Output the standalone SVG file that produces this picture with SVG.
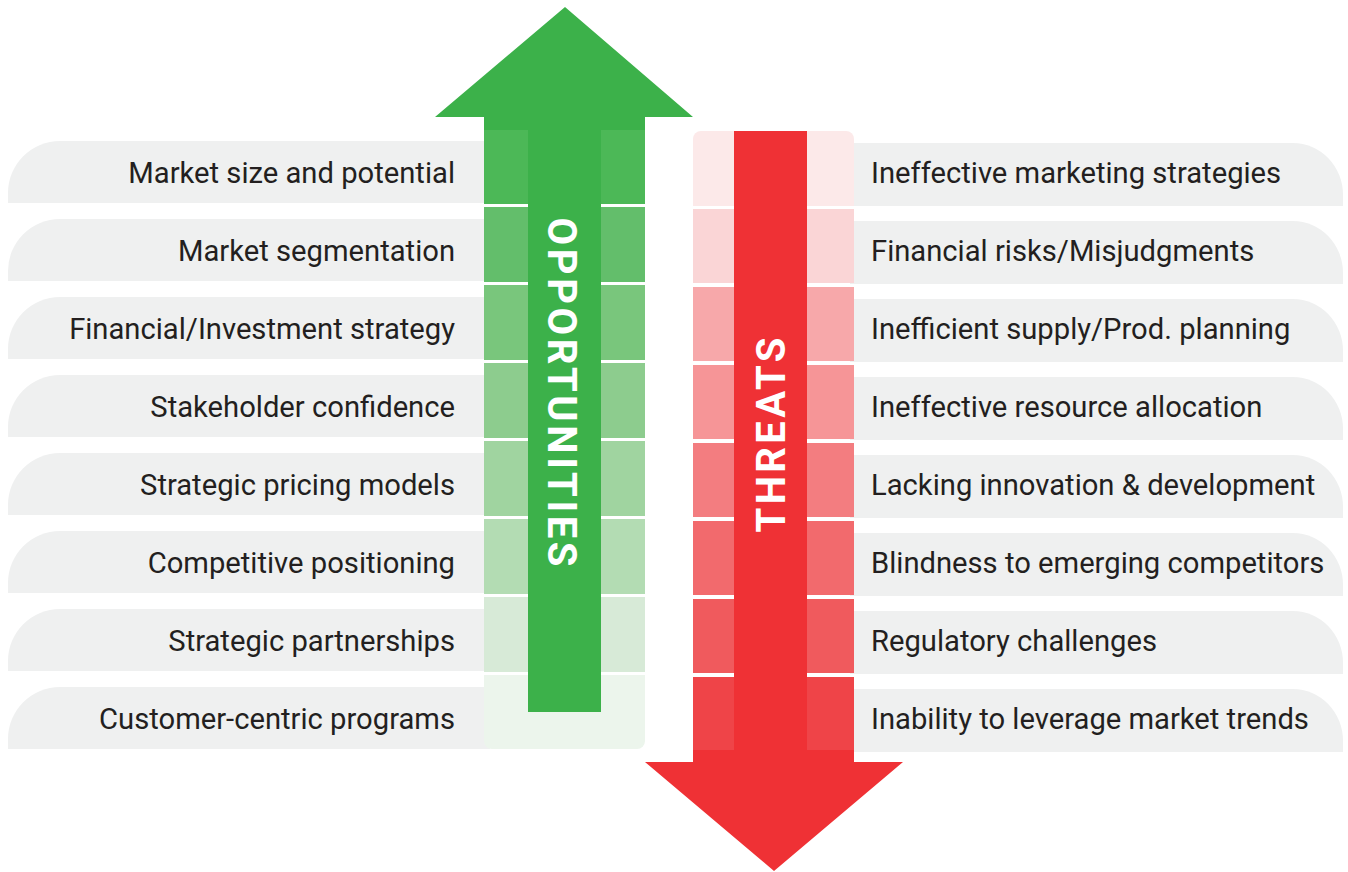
<svg xmlns="http://www.w3.org/2000/svg" width="1348" height="872" viewBox="0 0 1348 872">
<style>
.row{fill:#eff0f0}
.lt{font-family:Roboto,"Liberation Sans",sans-serif;font-size:29.2px;fill:#231f20;text-anchor:end}
.rt{font-family:Roboto,"Liberation Sans",sans-serif;font-size:29.2px;fill:#231f20;text-anchor:start}
.big{font-family:Roboto,"Liberation Sans",sans-serif;font-weight:bold;font-size:40px;fill:#ffffff;text-anchor:middle}
</style>
<rect width="1348" height="872" fill="#ffffff"/>
<defs>
<path id="lrow" d="M8,62 V52 A52,52 0 0 1 60,0 H490 V62 Z"/>
<path id="rrow" d="M850,0 H1293 A50,52 0 0 1 1343,52 V63 H850 Z"/>
</defs>
<g id="left-rows">
<use href="#lrow" class="row" y="141"/>
<use href="#lrow" class="row" y="219"/>
<use href="#lrow" class="row" y="297"/>
<use href="#lrow" class="row" y="375"/>
<use href="#lrow" class="row" y="453"/>
<use href="#lrow" class="row" y="531"/>
<use href="#lrow" class="row" y="609"/>
<use href="#lrow" class="row" y="687"/>
</g>
<g id="right-rows">
<use href="#rrow" class="row" y="143"/>
<use href="#rrow" class="row" y="221"/>
<use href="#rrow" class="row" y="299"/>
<use href="#rrow" class="row" y="377"/>
<use href="#rrow" class="row" y="455"/>
<use href="#rrow" class="row" y="533"/>
<use href="#rrow" class="row" y="611"/>
<use href="#rrow" class="row" y="689"/>
</g>
<g id="opportunities-arrow">
<polygon points="435,117 565,7 693,117 645,117 645,130 484,130 484,117" fill="#3cb14a"/>
<rect x="484" y="130" width="161" height="74" fill="#4cb857"/>
<rect x="484" y="207" width="161" height="75" fill="#63be6b"/>
<rect x="484" y="285" width="161" height="75" fill="#79c67c"/>
<rect x="484" y="363" width="161" height="75" fill="#8dcc8e"/>
<rect x="484" y="441" width="161" height="75" fill="#a0d4a0"/>
<rect x="484" y="519" width="161" height="75" fill="#b3dcb3"/>
<rect x="484" y="597" width="161" height="75" fill="#d7ead7"/>
<path d="M484,675 H645 V741 A8,8 0 0 1 637,749 H492 A8,8 0 0 1 484,741 Z" fill="#ecf5ec"/>
<rect x="528" y="130" width="73" height="582" fill="#3cb14a"/>
<text class="big" transform="translate(548,392) rotate(90)" textLength="349" lengthAdjust="spacing">OPPORTUNITIES</text>
</g>
<g id="threats-arrow">
<path d="M693,139 A8,8 0 0 1 701,131 H846 A8,8 0 0 1 854,139 V206 H693 Z" fill="#fce9e9"/>
<rect x="693" y="209" width="161" height="74" fill="#fad5d6"/>
<rect x="693" y="287" width="161" height="74" fill="#f7a8aa"/>
<rect x="693" y="365" width="161" height="74" fill="#f69597"/>
<rect x="693" y="443" width="161" height="74" fill="#f37d80"/>
<rect x="693" y="521" width="161" height="74" fill="#f26a6d"/>
<rect x="693" y="599" width="161" height="74" fill="#f05a5d"/>
<rect x="693" y="677" width="161" height="74" fill="#ef4448"/>
<rect x="734" y="131" width="73" height="620" fill="#ef3135"/>
<polygon points="693,750 854,750 854,762 903,762 774,871 645,762 693,762" fill="#ef3135"/>
<text class="big" transform="translate(785,435) rotate(-90)" textLength="195" lengthAdjust="spacing">THREATS</text>
</g>
<g id="left-labels">
<text class="lt" x="455" y="183">Market size and potential</text>
<text class="lt" x="455" y="261">Market segmentation</text>
<text class="lt" x="455" y="339">Financial/Investment strategy</text>
<text class="lt" x="455" y="417">Stakeholder confidence</text>
<text class="lt" x="455" y="495">Strategic pricing models</text>
<text class="lt" x="455" y="573">Competitive positioning</text>
<text class="lt" x="455" y="651">Strategic partnerships</text>
<text class="lt" x="455" y="729">Customer-centric programs</text>
</g>
<g id="right-labels">
<text class="rt" x="871" y="183">Ineffective marketing strategies</text>
<text class="rt" x="871" y="261">Financial risks/Misjudgments</text>
<text class="rt" x="871" y="339">Inefficient supply/Prod. planning</text>
<text class="rt" x="871" y="417">Ineffective resource allocation</text>
<text class="rt" x="871" y="495">Lacking innovation &amp; development</text>
<text class="rt" x="871" y="573">Blindness to emerging competitors</text>
<text class="rt" x="871" y="651">Regulatory challenges</text>
<text class="rt" x="871" y="729">Inability to leverage market trends</text>
</g>
</svg>
